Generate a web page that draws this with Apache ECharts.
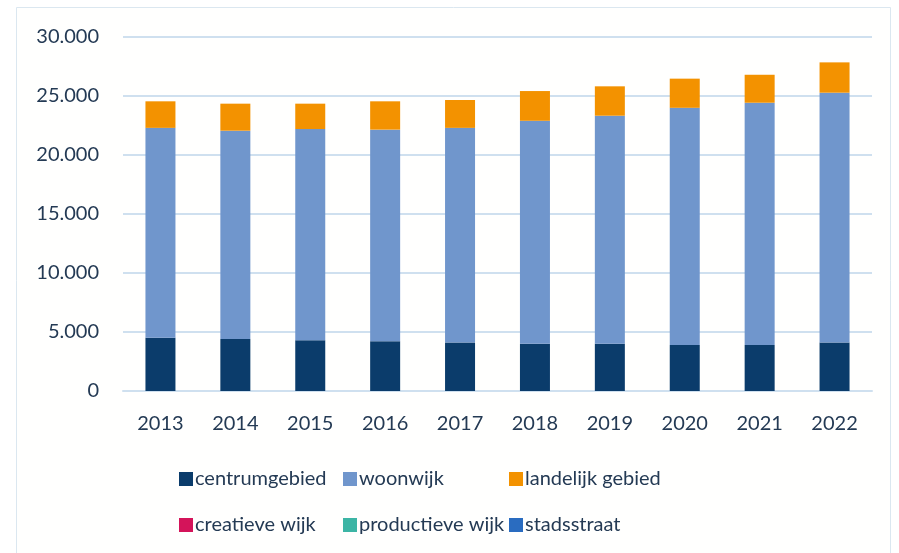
<!DOCTYPE html>
<html>
<head>
<meta charset="utf-8">
<script src="https://cdn.jsdelivr.net/npm/echarts@6/dist/echarts.min.js"></script>
<style>
html,body{margin:0;padding:0;background:#fff;}
#c{width:899px;height:553px;}
</style>
</head>
<body>
<div id="c"></div>
<script>
var years = ['2013','2014','2015','2016','2017','2018','2019','2020','2021','2022'];
var centrumgebied = [4520,4410,4300,4210,4100,4000,4000,3900,3900,4100];
var woonwijk = [17780,17650,17900,17940,18200,18900,19330,20100,20530,21180];
var landelijkGebied = [2250,2290,2150,2400,2360,2520,2490,2470,2370,2570];
var creatieveWijk = [0,0,0,0,0,0,0,0,0,0];
var productieveWijk = [0,0,0,0,0,0,0,0,0,0];
var stadsstraat = [0,0,0,0,0,0,0,0,0,0];
var yTicks = [0,5000,10000,15000,20000,25000,30000];

var names = ['centrumgebied','woonwijk','landelijk gebied','creatieve wijk','productieve wijk','stadsstraat'];
var datas = [centrumgebied, woonwijk, landelijkGebied, creatieveWijk, productieveWijk, stadsstraat];
var colors = ['#0b3c6b','#7096cc','#f39200','#d4145a','#3cb5a5','#2a6cc0'];
var textColor = '#243a54';
var font = 'Lato, "Open Sans", sans-serif';

var chart = echarts.init(document.getElementById('c'), null, {renderer:'canvas'});
var series = names.map(function(n,i){
  return {name:n,type:'bar',stack:'total',data:datas[i],barWidth:30,
    itemStyle:{color:colors[i]}};
});
function legend(items, left){
  return {orient:'vertical', left:left, top:469, padding:0, itemWidth:14, itemHeight:14, itemGap:26,
    icon:'rect', data:items, selectedMode:false,
    textStyle:{color:textColor, fontSize:20, fontFamily:font, padding:[0,0,0,-3]}};
}
chart.setOption({
  animation:false,
  backgroundColor:'#fff',
  textStyle:{fontFamily:font},
  graphic:[{type:'rect',shape:{x:16.5,y:7.5,width:874,height:560},
    style:{fill:'#fffffe',stroke:'#dbe7f0',lineWidth:1},z:-10}],
  grid:{left:123,right:27,top:37,bottom:162,containLabel:false},
  legend:[legend(['centrumgebied','creatieve wijk'],179),
          legend(['woonwijk','productieve wijk'],343),
          legend(['landelijk gebied','stadsstraat'],509)],
  xAxis:{type:'category',data:years,
    axisLine:{show:true,lineStyle:{color:'#cfe0ef',width:2}},
    axisTick:{show:false},
    axisLabel:{color:textColor,fontSize:20,fontFamily:font,margin:23}},
  yAxis:{type:'value',min:0,max:30000,interval:5000,
    axisLine:{show:false},axisTick:{show:false},
    splitLine:{lineStyle:{color:'#cfe0ef',width:2}},
    axisLabel:{color:textColor,fontSize:20,fontFamily:font,margin:24,
      formatter:function(v){return v===0?'0':(v/1000)+'.000';}}},
  series:series
});
</script>
</body>
</html>
